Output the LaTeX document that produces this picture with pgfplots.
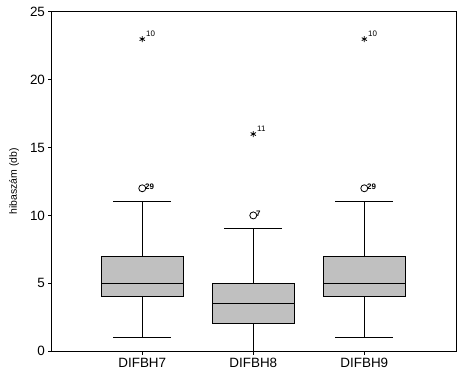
\documentclass[border=0pt]{standalone}
\usepackage{fontspec}
\setmainfont{Liberation Sans}
\usepackage{pgfplots}
\pgfplotsset{compat=1.18}
\usepgfplotslibrary{statistics}
\definecolor{boxgray}{RGB}{192,192,192}
\begin{document}
\begin{tikzpicture}
\useasboundingbox (-52bp,-25bp) rectangle (412bp,351bp);
\begin{axis}[
  scale only axis, width=404bp, height=339bp,
  at={(0,0)}, anchor=south west,
  xmin=0.187, xmax=3.826, ymin=0, ymax=25,
  xtick={1,2,3}, xticklabels={DIFBH7,DIFBH8,DIFBH9},
  ytick={0,5,10,15,20,25},
  tick pos=left, tick align=outside, major tick length=3.5bp,
  axis line style={line width=1bp, black},
  tick style={line width=1bp, black},
  ticklabel style={font=\fontsize{13.5}{15}\selectfont},
  /pgf/number format/assume math mode=true,
  ylabel={hibaszám (db)},
  ylabel style={font=\fontsize{10.5}{12}\selectfont, at={(axis description cs:-0.094,0.5)}, anchor=center},
  boxplot/draw direction=y,
  boxplot/box extend=0.74, boxplot/whisker extend=0.52,
]
\addplot[boxplot prepared={draw position=1, lower whisker=1, lower quartile=4, median=5, upper quartile=7, upper whisker=11}, draw=black, fill=boxgray, line width=1bp] coordinates {};
\addplot[boxplot prepared={draw position=2, lower whisker=0, lower quartile=2, median=3.5, upper quartile=5, upper whisker=9}, draw=black, fill=boxgray, line width=1bp] coordinates {};
\addplot[boxplot prepared={draw position=3, lower whisker=1, lower quartile=4, median=5, upper quartile=7, upper whisker=11}, draw=black, fill=boxgray, line width=1bp] coordinates {};
\addplot[only marks, mark=asterisk, mark size=3bp, black, line width=0.8bp,
  nodes near coords, point meta=explicit symbolic,
  nodes near coords style={font=\fontsize{8}{9}\selectfont, anchor=base west, inner sep=0pt, xshift=3.5bp, yshift=2.5bp}]
  coordinates {(1,23)[10] (2,16)[11] (3,23)[10]};
\addplot[only marks, mark=o, mark size=3.5bp, black, line width=0.8bp,
  nodes near coords, point meta=explicit symbolic,
  nodes near coords style={font=\bfseries\fontsize{8}{9}\selectfont, anchor=base west, inner sep=0pt, xshift=2.5bp, yshift=-1.5bp}]
  coordinates {(1,12)[29] (2,10)[7] (3,12)[29]};
\end{axis}
\end{tikzpicture}
\end{document}
